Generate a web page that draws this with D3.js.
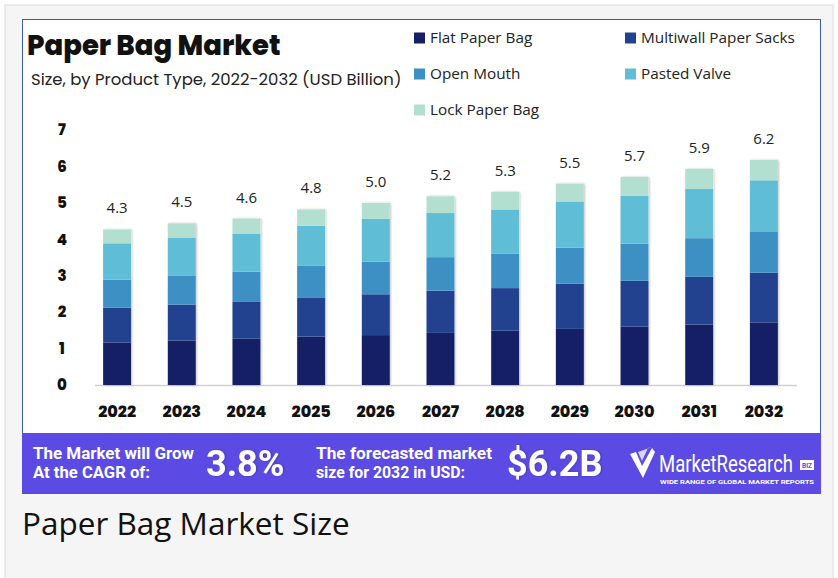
<!DOCTYPE html>
<html>
<head>
<meta charset="utf-8">
<script src="https://cdn.jsdelivr.net/npm/d3@7"></script>
<style>
  body { margin: 0; background: #fff; }
  svg { display: block; }
</style>
</head>
<body>
<div id="chart"></div>
<script>
// chart data (USD Billion)
const years = ["2022", "2023", "2024", "2025", "2026", "2027", "2028", "2029", "2030", "2031", "2032"];
const totals = [4.3, 4.5, 4.6, 4.8, 5.0, 5.2, 5.3, 5.5, 5.7, 5.9, 6.2];
const seriesNames = ["Flat Paper Bag", "Multiwall Paper Sacks", "Open Mouth", "Pasted Valve", "Lock Paper Bag"];
const flatPaperBag = [1.17, 1.22, 1.27, 1.33, 1.37, 1.43, 1.49, 1.54, 1.60, 1.66, 1.72];
const multiwallSacks = [0.95, 0.99, 1.01, 1.06, 1.12, 1.16, 1.17, 1.24, 1.26, 1.31, 1.36];
const openMouth = [0.77, 0.80, 0.83, 0.88, 0.90, 0.92, 0.94, 0.99, 1.02, 1.06, 1.12];
const pastedValve = [1.00, 1.04, 1.05, 1.10, 1.17, 1.21, 1.22, 1.27, 1.31, 1.35, 1.42];
const lockPaperBag = [0.38, 0.39, 0.41, 0.45, 0.44, 0.46, 0.48, 0.49, 0.52, 0.55, 0.56];
const yTicks = [0, 1, 2, 3, 4, 5, 6, 7];
const colors = ["#151f66", "#22428f", "#3c90c4", "#60bdd6", "#b3dfd0"];

const W = 838, H = 578;
const svg = d3.select("#chart").append("svg").attr("width", W).attr("height", H);

// page + card
svg.append("rect").attr("width", W).attr("height", H).attr("fill", "#fff");
svg.append("rect").attr("x", 5).attr("y", 5).attr("width", 828).attr("height", 580)
    .attr("fill", "#f5f5f5").attr("stroke", "#dcdcdc");
svg.append("rect").attr("x", 22.5).attr("y", 19.5).attr("width", 798).attr("height", 414)
    .attr("fill", "#fff").attr("stroke", "#3d5bb0").attr("stroke-width", 1);

const defs = svg.append("defs");
const f = defs.append("filter").attr("id", "sh").attr("x", "-30%").attr("y", "-10%")
    .attr("width", "160%").attr("height", "120%");
f.append("feDropShadow").attr("dx", 1).attr("dy", 0).attr("stdDeviation", 1.2)
    .attr("flood-color", "#000").attr("flood-opacity", 0.25);

// titles
svg.append("text").attr("x", 27).attr("y", 55)
    .style("font-family", "Poppins, Lato, sans-serif").style("font-weight", 800)
    .style("font-size", "27.5px").attr("fill", "#111").text("Paper Bag Market");
svg.append("text").attr("x", 31).attr("y", 85)
    .style("font-family", "Poppins, 'Open Sans', sans-serif")
    .style("font-size", "16.5px").attr("fill", "#222")
    .text("Size, by Product Type, 2022-2032 (USD Billion)");

// legend
const legendPos = [[414, 38], [625, 38], [414, 74], [625, 74], [414, 110]];
seriesNames.forEach((name, i) => {
    const g = svg.append("g").attr("transform", `translate(${legendPos[i][0]},${legendPos[i][1]})`);
    g.append("rect").attr("x", 0).attr("y", -5.5).attr("width", 11).attr("height", 11).attr("fill", colors[i]);
    g.append("text").attr("x", 16).attr("y", 0).attr("dy", "0.35em")
        .style("font-family", "'Open Sans', sans-serif").style("font-size", "15.3px")
        .attr("fill", "#222").text(name);
});

// scales
const x = d3.scaleBand().domain(years).range([85, 796]).paddingInner(0.567).paddingOuter(0.28);
const y = d3.scaleLinear().domain([0, 7]).range([385, 130]);

const rows = years.map((yr, i) => ({
    year: yr,
    "Flat Paper Bag": flatPaperBag[i],
    "Multiwall Paper Sacks": multiwallSacks[i],
    "Open Mouth": openMouth[i],
    "Pasted Valve": pastedValve[i],
    "Lock Paper Bag": lockPaperBag[i]
}));
const stacked = d3.stack().keys(seriesNames)(rows);

// y labels
svg.append("g").selectAll("text").data(yTicks).join("text")
    .attr("x", 62).attr("y", d => y(d)).attr("dy", "0.35em")
    .attr("text-anchor", "middle")
    .style("font-family", "Poppins, Lato, sans-serif").style("font-weight", 800)
    .style("font-size", "15px").attr("fill", "#111").text(d => d);

// baseline
svg.append("line").attr("x1", 95).attr("x2", 797).attr("y1", 385.5).attr("y2", 385.5)
    .attr("stroke", "#d0d0d0").attr("stroke-width", 1.5);

// bars
const barG = svg.append("g");
barG.selectAll("rect.shadow").data(years).join("rect")
    .attr("class", "shadow")
    .attr("x", d => x(d)).attr("width", x.bandwidth())
    .attr("y", (d, i) => y(d3.sum(seriesNames, k => rows[i][k])))
    .attr("height", (d, i) => y(0) - y(d3.sum(seriesNames, k => rows[i][k])))
    .attr("rx", 2).attr("fill", "#fff").attr("filter", "url(#sh)");
stacked.forEach((s, si) => {
    barG.append("g").attr("fill", colors[si]).selectAll("rect").data(s).join("rect")
        .attr("x", d => x(d.data.year)).attr("width", x.bandwidth())
        .attr("y", d => y(d[1])).attr("height", d => y(d[0]) - y(d[1]));
});

// value labels
svg.append("g").selectAll("text").data(years).join("text")
    .attr("x", d => x(d) + x.bandwidth() / 2)
    .attr("y", (d, i) => y(d3.sum(seriesNames, k => rows[i][k])) - 16)
    .attr("text-anchor", "middle")
    .style("font-family", "'Open Sans', sans-serif").style("font-size", "15px")
    .attr("fill", "#222").text((d, i) => totals[i].toFixed(1));

// x labels
svg.append("g").selectAll("text").data(years).join("text")
    .attr("x", d => x(d) + x.bandwidth() / 2).attr("y", 411).attr("dy", "0.35em")
    .attr("text-anchor", "middle")
    .style("font-family", "Poppins, Lato, sans-serif").style("font-weight", 800)
    .style("font-size", "16px").attr("fill", "#111").text(d => d);

// banner
svg.append("rect").attr("x", 22).attr("y", 433).attr("width", 799).attr("height", 61).attr("fill", "#5b4be4");
const bt = (txt, xx, yy, size, weight) => svg.append("text").attr("x", xx).attr("y", yy)
    .style("font-family", "Roboto, sans-serif").style("font-weight", weight)
    .style("font-size", size + "px").attr("fill", "#fff").text(txt);
bt("The Market will Grow", 33, 459, 16.5, 700).attr("textLength", 161).attr("lengthAdjust", "spacingAndGlyphs");
bt("At the CAGR of:", 33, 478, 16.5, 700).attr("textLength", 117).attr("lengthAdjust", "spacingAndGlyphs");
bt("3.8%", 206, 476, 36, 700).attr("filter", "url(#sh)");
bt("The forecasted market", 316, 459, 16.5, 700).attr("textLength", 176).attr("lengthAdjust", "spacingAndGlyphs");
bt("size for 2032 in USD:", 316, 478, 16.5, 700).attr("textLength", 149).attr("lengthAdjust", "spacingAndGlyphs");
bt("$6.2B", 507, 476, 36, 700).attr("filter", "url(#sh)");

// logo
svg.append("path").attr("d", "M630 454 L636 452 L642 466 L652 448 L655 452 L643 478 Z")
    .attr("fill", "#fff");
svg.append("path").attr("d", "M638 452 L642 461 L648 448 L652 447 Z").attr("fill", "#d9d4ff");
svg.append("g").attr("transform", "translate(659,472) scale(1,1.3)")
    .append("text").attr("x", 0).attr("y", 0)
    .style("font-family", "Roboto, sans-serif").style("font-size", "18.5px")
    .attr("fill", "#fff").text("MarketResearch");
svg.append("rect").attr("x", 800).attr("y", 460).attr("width", 14).attr("height", 10).attr("fill", "#fff");
svg.append("text").attr("x", 807).attr("y", 467.5).attr("text-anchor", "middle")
    .style("font-family", "Roboto, sans-serif").style("font-weight", 700).style("font-size", "6.5px")
    .attr("fill", "#5b4be4").text("BIZ");
bt("WIDE RANGE OF GLOBAL MARKET REPORTS", 660, 484, 6, 700)
    .attr("textLength", 154).attr("lengthAdjust", "spacingAndGlyphs");

// caption
svg.append("text").attr("x", 22).attr("y", 535)
    .style("font-family", "'Open Sans', sans-serif").style("font-size", "31.5px")
    .attr("fill", "#111").text("Paper Bag Market Size");
</script>
</body>
</html>
